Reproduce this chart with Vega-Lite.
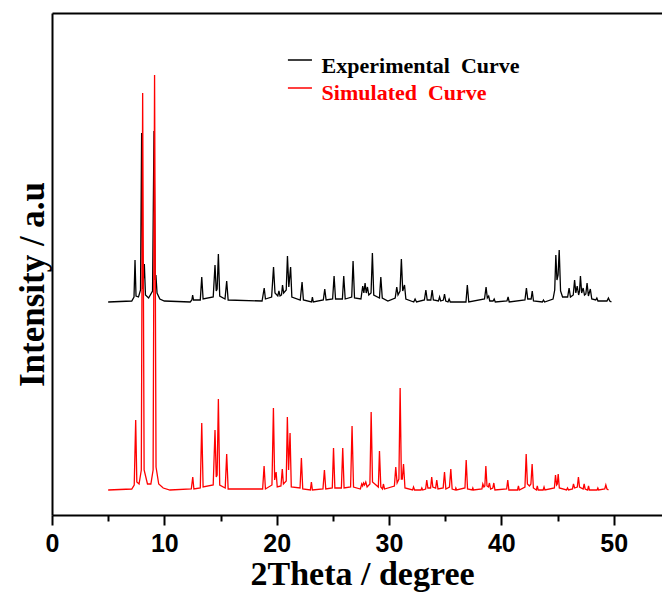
{
  "$schema": "https://vega.github.io/schema/vega-lite/v6.json",
  "autosize": {"type": "none"},
  "padding": {"left": 52, "top": 13, "right": 0, "bottom": 77},
  "width": 610,
  "height": 502,
  "background": "white",
  "config": {"view": {"stroke": null}},
  "datasets": {
    "xrd": [
      {"s":"E","t":5.0,"i":213},{"s":"E","t":7.1,"i":214},{"s":"E","t":7.3,"i":218},{"s":"E","t":7.39,"i":255},{"s":"E","t":7.48,"i":219},{"s":"E","t":7.7,"i":218},{"s":"E","t":7.88,"i":225},{"s":"E","t":7.98,"i":382},{"s":"E","t":8.08,"i":226},{"s":"E","t":8.22,"i":251},{"s":"E","t":8.32,"i":220},{"s":"E","t":8.6,"i":217},{"s":"E","t":8.95,"i":224},{"s":"E","t":9.08,"i":384},{"s":"E","t":9.18,"i":235},{"s":"E","t":9.25,"i":240},{"s":"E","t":9.35,"i":222},{"s":"E","t":9.6,"i":216},{"s":"E","t":10.0,"i":214},{"s":"E","t":12.3,"i":213},{"s":"E","t":12.45,"i":215},{"s":"E","t":12.52,"i":220},{"s":"E","t":12.6,"i":215},{"s":"E","t":13.2,"i":215},{"s":"E","t":13.33,"i":238},{"s":"E","t":13.45,"i":216},{"s":"E","t":14.35,"i":218},{"s":"E","t":14.51,"i":250},{"s":"E","t":14.62,"i":224},{"s":"E","t":14.7,"i":226},{"s":"E","t":14.81,"i":261},{"s":"E","t":14.93,"i":219},{"s":"E","t":15.4,"i":216},{"s":"E","t":15.55,"i":234},{"s":"E","t":15.68,"i":215},{"s":"E","t":18.7,"i":214},{"s":"E","t":18.89,"i":227},{"s":"E","t":19.0,"i":216},{"s":"E","t":19.55,"i":218},{"s":"E","t":19.72,"i":248},{"s":"E","t":19.85,"i":222},{"s":"E","t":20.1,"i":219},{"s":"E","t":20.2,"i":224},{"s":"E","t":20.3,"i":219},{"s":"E","t":20.43,"i":220},{"s":"E","t":20.52,"i":230},{"s":"E","t":20.62,"i":222},{"s":"E","t":20.85,"i":225},{"s":"E","t":20.96,"i":259},{"s":"E","t":21.08,"i":228},{"s":"E","t":21.24,"i":248},{"s":"E","t":21.35,"i":218},{"s":"E","t":22.1,"i":215},{"s":"E","t":22.26,"i":233},{"s":"E","t":22.38,"i":215},{"s":"E","t":23.1,"i":213},{"s":"E","t":23.18,"i":218},{"s":"E","t":23.26,"i":213},{"s":"E","t":24.15,"i":215},{"s":"E","t":24.28,"i":226},{"s":"E","t":24.4,"i":215},{"s":"E","t":24.98,"i":216},{"s":"E","t":25.11,"i":239},{"s":"E","t":25.24,"i":216},{"s":"E","t":25.85,"i":216},{"s":"E","t":25.97,"i":239},{"s":"E","t":26.1,"i":216},{"s":"E","t":26.68,"i":218},{"s":"E","t":26.8,"i":254},{"s":"E","t":26.93,"i":217},{"s":"E","t":27.5,"i":216},{"s":"E","t":27.66,"i":229},{"s":"E","t":27.76,"i":222},{"s":"E","t":27.87,"i":232},{"s":"E","t":27.97,"i":222},{"s":"E","t":28.08,"i":228},{"s":"E","t":28.2,"i":220},{"s":"E","t":28.4,"i":222},{"s":"E","t":28.52,"i":262},{"s":"E","t":28.64,"i":220},{"s":"E","t":29.15,"i":217},{"s":"E","t":29.27,"i":238},{"s":"E","t":29.4,"i":217},{"s":"E","t":29.9,"i":214},{"s":"E","t":30.55,"i":217},{"s":"E","t":30.69,"i":228},{"s":"E","t":30.8,"i":220},{"s":"E","t":30.98,"i":224},{"s":"E","t":31.1,"i":256},{"s":"E","t":31.22,"i":224},{"s":"E","t":31.38,"i":230},{"s":"E","t":31.5,"i":216},{"s":"E","t":32.2,"i":213},{"s":"E","t":32.32,"i":216},{"s":"E","t":32.45,"i":213},{"s":"E","t":33.15,"i":215},{"s":"E","t":33.28,"i":225},{"s":"E","t":33.4,"i":215},{"s":"E","t":33.72,"i":215},{"s":"E","t":33.84,"i":225},{"s":"E","t":33.95,"i":215},{"s":"E","t":34.4,"i":214},{"s":"E","t":34.5,"i":218},{"s":"E","t":34.6,"i":214},{"s":"E","t":34.84,"i":215},{"s":"E","t":34.94,"i":221},{"s":"E","t":35.05,"i":214},{"s":"E","t":35.25,"i":213},{"s":"E","t":35.35,"i":216},{"s":"E","t":35.45,"i":213},{"s":"E","t":36.85,"i":213},{"s":"E","t":36.97,"i":230},{"s":"E","t":37.1,"i":213},{"s":"E","t":38.5,"i":216},{"s":"E","t":38.64,"i":228},{"s":"E","t":38.75,"i":217},{"s":"E","t":38.87,"i":219},{"s":"E","t":38.97,"i":214},{"s":"E","t":39.26,"i":214},{"s":"E","t":39.36,"i":216},{"s":"E","t":39.46,"i":213},{"s":"E","t":40.5,"i":214},{"s":"E","t":40.6,"i":218},{"s":"E","t":40.7,"i":213},{"s":"E","t":42.1,"i":215},{"s":"E","t":42.23,"i":227},{"s":"E","t":42.35,"i":216},{"s":"E","t":42.65,"i":216},{"s":"E","t":42.75,"i":224},{"s":"E","t":42.86,"i":214},{"s":"E","t":43.65,"i":213},{"s":"E","t":43.75,"i":215},{"s":"E","t":43.85,"i":213},{"s":"E","t":44.6,"i":216},{"s":"E","t":44.75,"i":225},{"s":"E","t":44.85,"i":260},{"s":"E","t":44.95,"i":235},{"s":"E","t":45.05,"i":240},{"s":"E","t":45.15,"i":265},{"s":"E","t":45.27,"i":224},{"s":"E","t":45.45,"i":218},{"s":"E","t":45.9,"i":218},{"s":"E","t":46.03,"i":227},{"s":"E","t":46.15,"i":218},{"s":"E","t":46.4,"i":220},{"s":"E","t":46.52,"i":235},{"s":"E","t":46.63,"i":222},{"s":"E","t":46.75,"i":229},{"s":"E","t":46.88,"i":220},{"s":"E","t":46.96,"i":224},{"s":"E","t":47.04,"i":239},{"s":"E","t":47.15,"i":222},{"s":"E","t":47.28,"i":227},{"s":"E","t":47.4,"i":220},{"s":"E","t":47.52,"i":221},{"s":"E","t":47.63,"i":232},{"s":"E","t":47.75,"i":219},{"s":"E","t":47.92,"i":226},{"s":"E","t":48.05,"i":216},{"s":"E","t":48.4,"i":215},{"s":"E","t":48.5,"i":217},{"s":"E","t":48.6,"i":214},{"s":"E","t":49.4,"i":214},{"s":"E","t":49.53,"i":217},{"s":"E","t":49.65,"i":214},{"s":"E","t":49.8,"i":213},
      {"s":"S","t":5.0,"i":25},{"s":"S","t":7.1,"i":26},{"s":"S","t":7.32,"i":30},{"s":"S","t":7.45,"i":95},{"s":"S","t":7.55,"i":33},{"s":"S","t":7.75,"i":31},{"s":"S","t":7.95,"i":45},{"s":"S","t":8.07,"i":422},{"s":"S","t":8.2,"i":45},{"s":"S","t":8.5,"i":31},{"s":"S","t":8.8,"i":31},{"s":"S","t":9.0,"i":45},{"s":"S","t":9.13,"i":440},{"s":"S","t":9.26,"i":48},{"s":"S","t":9.5,"i":31},{"s":"S","t":9.9,"i":27},{"s":"S","t":10.5,"i":25},{"s":"S","t":12.4,"i":26},{"s":"S","t":12.53,"i":38},{"s":"S","t":12.63,"i":26},{"s":"S","t":13.2,"i":27},{"s":"S","t":13.33,"i":92},{"s":"S","t":13.45,"i":28},{"s":"S","t":14.35,"i":30},{"s":"S","t":14.51,"i":85},{"s":"S","t":14.62,"i":38},{"s":"S","t":14.7,"i":40},{"s":"S","t":14.81,"i":116},{"s":"S","t":14.93,"i":30},{"s":"S","t":15.42,"i":27},{"s":"S","t":15.55,"i":61},{"s":"S","t":15.68,"i":26},{"s":"S","t":18.75,"i":26},{"s":"S","t":18.88,"i":49},{"s":"S","t":19.0,"i":26},{"s":"S","t":19.58,"i":30},{"s":"S","t":19.71,"i":107},{"s":"S","t":19.82,"i":35},{"s":"S","t":19.95,"i":43},{"s":"S","t":20.05,"i":28},{"s":"S","t":20.38,"i":29},{"s":"S","t":20.5,"i":46},{"s":"S","t":20.6,"i":31},{"s":"S","t":20.85,"i":34},{"s":"S","t":20.95,"i":98},{"s":"S","t":21.06,"i":45},{"s":"S","t":21.19,"i":82},{"s":"S","t":21.3,"i":28},{"s":"S","t":22.08,"i":27},{"s":"S","t":22.2,"i":57},{"s":"S","t":22.32,"i":26},{"s":"S","t":23.0,"i":25},{"s":"S","t":23.09,"i":33},{"s":"S","t":23.18,"i":25},{"s":"S","t":24.12,"i":26},{"s":"S","t":24.25,"i":45},{"s":"S","t":24.37,"i":26},{"s":"S","t":24.95,"i":27},{"s":"S","t":25.06,"i":67},{"s":"S","t":25.18,"i":27},{"s":"S","t":25.76,"i":27},{"s":"S","t":25.88,"i":67},{"s":"S","t":26.0,"i":27},{"s":"S","t":26.58,"i":28},{"s":"S","t":26.71,"i":89},{"s":"S","t":26.84,"i":28},{"s":"S","t":27.45,"i":26},{"s":"S","t":27.57,"i":31},{"s":"S","t":27.65,"i":29},{"s":"S","t":27.73,"i":32},{"s":"S","t":27.82,"i":30},{"s":"S","t":27.93,"i":33},{"s":"S","t":28.05,"i":28},{"s":"S","t":28.3,"i":31},{"s":"S","t":28.41,"i":103},{"s":"S","t":28.53,"i":33},{"s":"S","t":29.05,"i":28},{"s":"S","t":29.15,"i":64},{"s":"S","t":29.27,"i":28},{"s":"S","t":29.42,"i":26},{"s":"S","t":29.5,"i":31},{"s":"S","t":29.6,"i":26},{"s":"S","t":30.48,"i":29},{"s":"S","t":30.6,"i":48},{"s":"S","t":30.72,"i":32},{"s":"S","t":30.88,"i":36},{"s":"S","t":30.99,"i":127},{"s":"S","t":31.1,"i":36},{"s":"S","t":31.18,"i":36},{"s":"S","t":31.29,"i":51},{"s":"S","t":31.42,"i":27},{"s":"S","t":32.1,"i":25},{"s":"S","t":32.18,"i":28},{"s":"S","t":32.28,"i":25},{"s":"S","t":32.85,"i":25},{"s":"S","t":32.92,"i":27},{"s":"S","t":33.0,"i":25},{"s":"S","t":33.26,"i":26},{"s":"S","t":33.36,"i":35},{"s":"S","t":33.46,"i":27},{"s":"S","t":33.7,"i":27},{"s":"S","t":33.8,"i":38},{"s":"S","t":33.9,"i":28},{"s":"S","t":34.15,"i":27},{"s":"S","t":34.25,"i":35},{"s":"S","t":34.36,"i":26},{"s":"S","t":34.82,"i":27},{"s":"S","t":34.94,"i":43},{"s":"S","t":35.06,"i":26},{"s":"S","t":35.38,"i":28},{"s":"S","t":35.5,"i":46},{"s":"S","t":35.62,"i":26},{"s":"S","t":35.9,"i":25},{"s":"S","t":35.95,"i":27},{"s":"S","t":36.02,"i":25},{"s":"S","t":36.76,"i":27},{"s":"S","t":36.87,"i":55},{"s":"S","t":36.99,"i":26},{"s":"S","t":37.4,"i":25},{"s":"S","t":37.46,"i":27},{"s":"S","t":37.52,"i":25},{"s":"S","t":38.27,"i":26},{"s":"S","t":38.35,"i":31},{"s":"S","t":38.45,"i":28},{"s":"S","t":38.53,"i":29},{"s":"S","t":38.62,"i":49},{"s":"S","t":38.72,"i":29},{"s":"S","t":38.85,"i":28},{"s":"S","t":38.94,"i":32},{"s":"S","t":39.04,"i":26},{"s":"S","t":39.24,"i":27},{"s":"S","t":39.33,"i":32},{"s":"S","t":39.43,"i":25},{"s":"S","t":40.47,"i":26},{"s":"S","t":40.57,"i":35},{"s":"S","t":40.67,"i":25},{"s":"S","t":41.44,"i":25},{"s":"S","t":41.52,"i":29},{"s":"S","t":41.6,"i":25},{"s":"S","t":42.1,"i":28},{"s":"S","t":42.21,"i":61},{"s":"S","t":42.32,"i":31},{"s":"S","t":42.5,"i":29},{"s":"S","t":42.63,"i":31},{"s":"S","t":42.74,"i":51},{"s":"S","t":42.85,"i":27},{"s":"S","t":43.12,"i":25},{"s":"S","t":43.2,"i":29},{"s":"S","t":43.28,"i":25},{"s":"S","t":43.72,"i":25},{"s":"S","t":43.8,"i":28},{"s":"S","t":43.88,"i":25},{"s":"S","t":44.72,"i":27},{"s":"S","t":44.82,"i":40},{"s":"S","t":44.92,"i":30},{"s":"S","t":44.98,"i":31},{"s":"S","t":45.06,"i":41},{"s":"S","t":45.16,"i":27},{"s":"S","t":45.8,"i":25},{"s":"S","t":45.89,"i":27},{"s":"S","t":45.98,"i":25},{"s":"S","t":46.33,"i":26},{"s":"S","t":46.42,"i":31},{"s":"S","t":46.52,"i":27},{"s":"S","t":46.76,"i":28},{"s":"S","t":46.86,"i":38},{"s":"S","t":46.96,"i":28},{"s":"S","t":47.28,"i":26},{"s":"S","t":47.37,"i":31},{"s":"S","t":47.46,"i":26},{"s":"S","t":47.68,"i":25},{"s":"S","t":47.76,"i":29},{"s":"S","t":47.84,"i":25},{"s":"S","t":48.52,"i":25},{"s":"S","t":48.59,"i":27},{"s":"S","t":48.66,"i":25},{"s":"S","t":49.2,"i":26},{"s":"S","t":49.3,"i":30},{"s":"S","t":49.4,"i":26},{"s":"S","t":49.54,"i":25}
    ],
    "leg": [
      {"s":"E","t1":21.0,"t2":23.14,"i":455,"tt":24.0,"ti":442,"label":"Experimental\u00a0 Curve"},
      {"s":"S","t1":21.0,"t2":23.14,"i":427,"tt":24.0,"ti":415,"label":"Simulated\u00a0 Curve"}
    ]
  },
  "resolve": {"axis": {"x": "independent"}},
  "layer": [
    {
      "data": {"name": "xrd"},
      "mark": {"type": "line", "strokeWidth": 1.3, "interpolate": "linear"},
      "encoding": {
        "x": {"field": "t", "type": "quantitative", "scale": {"domain": [0, 54.3], "nice": false, "zero": false},
          "axis": {"orient": "bottom", "values": [0,5,10,15,20,25,30,35,40,45,50],
            "labelExpr": "datum.value % 10 === 0 ? datum.label : ''",
            "tickSize": {"condition": {"test": "datum.value % 10 !== 0", "value": 6}, "value": 10},
            "tickWidth": 2, "tickColor": "black", "domainColor": "black", "domainWidth": 2,
            "labelFont": "Liberation Sans", "labelFontWeight": "bold", "labelFontSize": 25, "labelColor": "black",
            "labelBaseline": "alphabetic", "labelPadding": 26, "labelFlush": false, "labelOverlap": false,
            "grid": false,
            "title": "2Theta / degree", "titleFont": "Liberation Serif", "titleFontWeight": "bold", "titleFontSize": 34, "titleColor": "black",
            "titleX": 310, "titleY": 69, "titleBaseline": "alphabetic", "titleAlign": "center"}},
        "y": {"field": "i", "type": "quantitative", "scale": {"domain": [0, 502], "nice": false, "zero": false},
          "axis": {"orient": "left", "ticks": false, "labels": false, "grid": false,
            "domainColor": "black", "domainWidth": 2,
            "title": "Intensity / a.u", "titleFont": "Liberation Serif", "titleFontWeight": "bold", "titleFontSize": 35, "titleColor": "black",
            "titleAngle": -90, "titleX": -9, "titleY": 271, "titleBaseline": "alphabetic", "titleAlign": "center"}},
        "color": {"field": "s", "type": "nominal", "scale": {"domain": ["E","S"], "range": ["#000000","#ff0000"]}, "legend": null},
        "detail": {"field": "s"}
      }
    },
    {
      "data": {"name": "leg"},
      "mark": {"type": "rule", "strokeWidth": 1.5},
      "encoding": {
        "x": {"field": "t1", "type": "quantitative",
          "axis": {"orient": "top", "ticks": false, "labels": false, "title": null, "grid": false, "domainColor": "black", "domainWidth": 2}},
        "x2": {"field": "t2"},
        "y": {"field": "i", "type": "quantitative",
          "axis": {"orient": "left", "ticks": false, "labels": false, "grid": false,
            "domainColor": "black", "domainWidth": 2,
            "title": "Intensity / a.u", "titleFont": "Liberation Serif", "titleFontWeight": "bold", "titleFontSize": 35, "titleColor": "black",
            "titleAngle": -90, "titleX": -9, "titleY": 271, "titleBaseline": "alphabetic", "titleAlign": "center"}},
        "color": {"field": "s", "type": "nominal", "legend": null}
      }
    },
    {
      "data": {"name": "leg"},
      "mark": {"type": "text", "align": "left", "baseline": "alphabetic", "font": "Liberation Serif", "fontWeight": "bold", "fontSize": 22},
      "encoding": {
        "x": {"field": "tt", "type": "quantitative", "axis": null},
        "y": {"field": "ti", "type": "quantitative",
          "axis": {"orient": "left", "ticks": false, "labels": false, "grid": false,
            "domainColor": "black", "domainWidth": 2,
            "title": "Intensity / a.u", "titleFont": "Liberation Serif", "titleFontWeight": "bold", "titleFontSize": 35, "titleColor": "black",
            "titleAngle": -90, "titleX": -9, "titleY": 271, "titleBaseline": "alphabetic", "titleAlign": "center"}},
        "text": {"field": "label"},
        "color": {"field": "s", "type": "nominal", "legend": null}
      }
    }
  ]
}
